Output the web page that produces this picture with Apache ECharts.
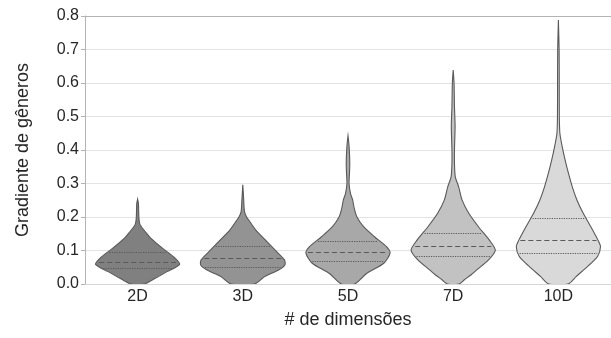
<!DOCTYPE html>
<html>
<head>
<meta charset="utf-8">
<script src="https://cdn.jsdelivr.net/npm/echarts@6/dist/echarts.min.js"></script>
<style>html,body{margin:0;padding:0;background:#fff}#c{width:611px;height:338px}</style>
</head>
<body>
<div id="c"></div>
<script>
// ---- data ----
const categories = ['2D', '3D', '5D', '7D', '10D'];
const yTicks = [0, 0.1, 0.2, 0.3, 0.4, 0.5, 0.6, 0.7, 0.8];

// KDE levels (value axis) and relative density (1 = widest) for each violin
const levels2D  = [0, 0.017, 0.037, 0.059, 0.082, 0.107, 0.137, 0.155, 0.171, 0.18, 0.20, 0.24, 0.253];
const density2D = [0.16, 0.42, 0.70, 1.00, 0.85, 0.59, 0.31, 0.19, 0.09, 0.05, 0.03, 0.02, 0];

const levels3D  = [0, 0.022, 0.042, 0.057, 0.072, 0.101, 0.131, 0.161, 0.191, 0.20, 0.216, 0.25, 0.296];
const density3D = [0.28, 0.52, 0.85, 1.00, 0.99, 0.77, 0.54, 0.31, 0.14, 0.09, 0.04, 0.022, 0];

const levels5D  = [0, 0.032, 0.062, 0.092, 0.111, 0.141, 0.171, 0.201, 0.225, 0.251, 0.27, 0.30, 0.33, 0.36, 0.39, 0.42, 0.442];
const density5D = [0.16, 0.45, 0.85, 1.00, 0.92, 0.63, 0.37, 0.21, 0.15, 0.11, 0.06, 0.025, 0.035, 0.042, 0.035, 0.02, 0];

const levels7D  = [0, 0.012, 0.027, 0.042, 0.072, 0.101, 0.131, 0.171, 0.211, 0.251, 0.29, 0.32, 0.36, 0.40, 0.47, 0.53, 0.60, 0.639];
const density7D = [0.14, 0.26, 0.42, 0.56, 0.84, 1.00, 0.86, 0.60, 0.37, 0.21, 0.13, 0.05, 0.03, 0.03, 0.045, 0.03, 0.02, 0];

const levels10D  = [0, 0.022, 0.052, 0.082, 0.111, 0.131, 0.171, 0.211, 0.251, 0.29, 0.33, 0.37, 0.41, 0.45, 0.50, 0.60, 0.70, 0.788];
const density10D = [0.23, 0.42, 0.69, 0.93, 1.00, 0.94, 0.77, 0.59, 0.44, 0.33, 0.24, 0.16, 0.09, 0.035, 0.022, 0.02, 0.017, 0];

// quartiles: [Q1, median, Q3]
const quartiles2D  = [0.048, 0.067, 0.096];
const quartiles3D  = [0.050, 0.077, 0.113];
const quartiles5D  = [0.069, 0.095, 0.129];
const quartiles7D  = [0.084, 0.114, 0.153];
const quartiles10D = [0.093, 0.131, 0.198];

const fills = ['#808080', '#939393', '#a8a8a8', '#c2c2c2', '#d9d9d9'];

// ---- build ----
const LEVELS = [levels2D, levels3D, levels5D, levels7D, levels10D];
const DENS = [density2D, density3D, density5D, density7D, density10D];
const QUART = [quartiles2D, quartiles3D, quartiles5D, quartiles7D, quartiles10D];
const FONT = '"Liberation Sans", Arial, sans-serif';
const TXT = '#262626';
const EDGE = '#595959';

function widthAt(lv, dn, v) {
  for (let k = 0; k < lv.length - 1; k++) {
    if (v >= lv[k] && v <= lv[k + 1]) {
      const t = (v - lv[k]) / (lv[k + 1] - lv[k]);
      return dn[k] + t * (dn[k + 1] - dn[k]);
    }
  }
  return 0;
}

function renderItem(params, api) {
  const i = api.value(0);
  const lv = LEVELS[i], dn = DENS[i];
  const band = api.size([1, 0])[0];
  const maxHalf = band * 0.4;
  const cx = api.coord([i, 0])[0];
  const right = [], left = [];
  for (let k = 0; k < lv.length; k++) {
    const y = api.coord([i, lv[k]])[1];
    right.push([cx + dn[k] * maxHalf, y]);
    left.push([cx - dn[k] * maxHalf, y]);
  }
  const pts = right.concat(left.reverse());
  const children = [{
    type: 'polygon',
    shape: { points: pts, smooth: 0.25 },
    style: { fill: fills[i], stroke: EDGE, lineWidth: 1.1 }
  }];
  QUART[i].forEach((q, j) => {
    const w = widthAt(lv, dn, q) * maxHalf - 1.5;
    const y = Math.round(api.coord([i, q])[1]) + 0.5;
    children.push({
      type: 'line',
      shape: { x1: cx - w, y1: y, x2: cx + w, y2: y },
      style: { stroke: EDGE, lineWidth: j === 1 ? 1 : 1.1, lineDash: j === 1 ? [5, 3] : [1.2, 1.2] }
    });
  });
  return { type: 'group', children };
}

const chart = echarts.init(document.getElementById('c'), null, { renderer: 'canvas' });
chart.setOption({
  animation: false,
  backgroundColor: '#fff',
  grid: { left: 85, top: 16, width: 532, bottom: 54, containLabel: false },
  xAxis: [{
    type: 'category',
    data: categories,
    boundaryGap: true,
    name: '# de dimensões',
    nameLocation: 'middle',
    nameGap: 27,
    nameTextStyle: { fontFamily: FONT, fontSize: 18, color: TXT },
    axisLine: { lineStyle: { color: '#d6d6d6', width: 1 } },
    axisTick: { show: false },
    axisLabel: { fontFamily: FONT, fontSize: 16, color: TXT, margin: 5 },
    splitLine: { show: false }
  }, {
    type: 'category',
    data: categories,
    position: 'top',
    axisLine: { show: true, lineStyle: { color: '#b3b3b3', width: 1 } },
    axisTick: { show: false },
    axisLabel: { show: false },
    splitLine: { show: false }
  }],
  yAxis: {
    type: 'value',
    min: yTicks[0],
    max: yTicks[yTicks.length - 1],
    interval: 0.1,
    name: 'Gradiente de gêneros',
    nameLocation: 'middle',
    nameGap: 53,
    nameTextStyle: { fontFamily: FONT, fontSize: 18, color: TXT },
    axisLine: { show: true, lineStyle: { color: '#b3b3b3', width: 1 } },
    axisTick: { show: true, length: 4, lineStyle: { color: '#b3b3b3' } },
    axisLabel: { fontFamily: FONT, fontSize: 16, color: TXT, margin: 6, formatter: v => v.toFixed(1) },
    splitLine: { lineStyle: { color: '#e3e3e3', width: 1 } }
  },
  series: [{
    type: 'custom',
    renderItem: renderItem,
    clip: true,
    encode: { x: 0, y: 1 },
    data: categories.map((c, i) => [i, QUART[i][1]])
  }]
});
</script>
</body>
</html>
